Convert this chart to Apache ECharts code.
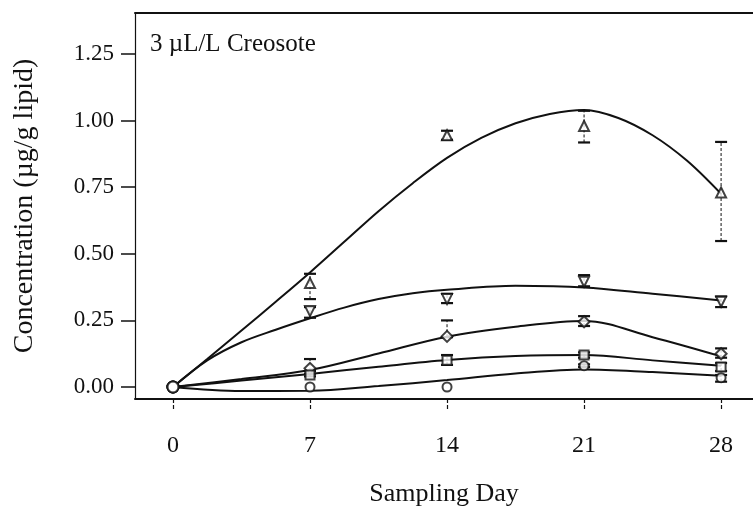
<!DOCTYPE html>
<html>
<head>
<meta charset="utf-8">
<script src="https://cdn.jsdelivr.net/npm/echarts@6/dist/echarts.min.js"></script>
<style>
  html, body { margin: 0; padding: 0; background: #fff; }
  #chart { width: 753px; height: 508px; }
</style>
</head>
<body>
<div id="chart"></div>
<script>
// Sampling days and tick labels
const days = [0, 7, 14, 21, 28];
const xTicks = [0, 7, 14, 21, 28];
const yTicks = [0, 0.25, 0.5, 0.75, 1.0, 1.25];

// Measured means per compound group
const s1 = [0, 0.39, 0.945, 0.98, 0.73];
const s2 = [0, 0.285, 0.33, 0.395, 0.32];
const s3 = [0, 0.07, 0.19, 0.245, 0.125];
const s4 = [0, 0.045, 0.10, 0.12, 0.075];
const s5 = [0, 0.0, 0.0, 0.08, 0.035];

// Error bar bounds (null = no bar)
const s1Low  = [null, 0.33, 0.928, 0.918, 0.548];
const s1High = [null, 0.425, 0.962, 1.037, 0.92];
const s2Low  = [null, 0.26, 0.315, 0.378, 0.30];
const s2High = [null, 0.30, 0.35, 0.42, 0.34];
const s3Low  = [null, 0.06, 0.187, 0.229, 0.11];
const s3High = [null, 0.105, 0.25, 0.266, 0.145];
const s4Low  = [null, 0.04, 0.083, 0.11, 0.06];
const s4High = [null, 0.05, 0.12, 0.13, 0.09];
const s5Low  = [null, null, null, 0.075, 0.02];
const s5High = [null, null, null, 0.085, 0.045];

// Fitted curves
const fit1Days = [0, 1.75, 3.5, 5.25, 7, 8.75, 10.5, 12.25, 14, 15.75, 17.5, 19.25, 21, 22.75, 24.5, 26.25, 28];
const fit1 = [0, 0.105, 0.212, 0.32, 0.43, 0.545, 0.66, 0.765, 0.86, 0.935, 0.99, 1.025, 1.04, 1.01, 0.945, 0.85, 0.725];
const fit2Days = [0, 1.75, 3.5, 5.25, 7, 8.75, 10.5, 12.25, 14, 17.5, 21, 24.5, 28];
const fit2 = [0, 0.10, 0.168, 0.215, 0.258, 0.298, 0.33, 0.352, 0.365, 0.38, 0.374, 0.35, 0.325];
const fit3Days = [0, 3.5, 7, 10.5, 14, 17.5, 21, 24.5, 28];
const fit3 = [0, 0.03, 0.064, 0.126, 0.189, 0.226, 0.248, 0.187, 0.115];
const fit4Days = [0, 3.5, 7, 10.5, 14, 17.5, 21, 24.5, 28];
const fit4 = [0, 0.024, 0.049, 0.076, 0.101, 0.116, 0.12, 0.10, 0.08];
const fit5Days = [0, 3.5, 7, 10.5, 14, 17.5, 21, 24.5, 28];
const fit5 = [0, -0.015, -0.014, 0.004, 0.026, 0.051, 0.066, 0.056, 0.042];

const FONT = 'Liberation Serif';
const INK = '#111';
const invTriangle = 'path://M0,0 L10,0 L5,9 Z';

function pairs(xs, ys) { return xs.map((x, i) => [x, ys[i]]); }

function fitSeries(xs, ys) {
  return {
    type: 'line', data: pairs(xs, ys), smooth: 0.35, showSymbol: false,
    lineStyle: { color: INK, width: 2 }, z: 2, silent: true
  };
}

function errSeries(low, high) {
  const data = [];
  days.forEach((d, i) => { if (low[i] != null) data.push([d, low[i], high[i]]); });
  return {
    type: 'custom', z: 3, silent: true, data: data,
    encode: { x: 0, y: [1, 2] },
    renderItem: function (params, api) {
      const lo = api.coord([api.value(0), api.value(1)]);
      const hi = api.coord([api.value(0), api.value(2)]);
      const hw = 6;
      return {
        type: 'group', children: [
          { type: 'line', shape: { x1: lo[0], y1: lo[1], x2: hi[0], y2: hi[1] },
            style: { stroke: INK, lineWidth: 1, lineDash: [3, 2] } },
          { type: 'line', shape: { x1: lo[0] - hw, y1: lo[1], x2: lo[0] + hw, y2: lo[1] },
            style: { stroke: INK, lineWidth: 2.2 } },
          { type: 'line', shape: { x1: hi[0] - hw, y1: hi[1], x2: hi[0] + hw, y2: hi[1] },
            style: { stroke: INK, lineWidth: 2.2 } }
        ]
      };
    }
  };
}

function markSeries(ys, symbol, size) {
  return {
    type: 'scatter', z: 5, silent: true,
    data: days.map((d, i) => i === 0
      ? { value: [d, ys[i]], symbol: 'circle', symbolSize: 11 }
      : { value: [d, ys[i]] }),
    symbol: symbol, symbolSize: size,
    itemStyle: { color: '#fff', borderColor: INK, borderWidth: 2 }
  };
}

const chart = echarts.init(document.getElementById('chart'), null, { renderer: 'canvas' });
chart.setOption({
  backgroundColor: '#fff',
  animation: false,
  grid: { left: 135, top: 13, right: 0, bottom: 109, containLabel: false, outerBoundsMode: 'none' },
  xAxis: [{
    type: 'value', min: -1.94, max: 29.63,
    splitLine: { show: false },
    axisLine: { onZero: false, lineStyle: { color: INK, width: 2 } },
    axisTick: { show: true, length: 12, customValues: xTicks, lineStyle: { color: INK, width: 1.2, type: [4, 2] } },
    axisLabel: { customValues: xTicks, margin: 35, fontFamily: FONT, fontSize: 24, color: INK },
    name: 'Sampling Day', nameLocation: 'middle', nameGap: 82,
    nameTextStyle: { fontFamily: FONT, fontSize: 26, color: INK }
  }, {
    type: 'value', position: 'top', min: -1.94, max: 29.63,
    splitLine: { show: false },
    axisLine: { show: true, onZero: false, lineStyle: { color: INK, width: 2 } },
    axisTick: { show: false }, axisLabel: { show: false }
  }],
  yAxis: {
    type: 'value', min: -0.045, max: 1.404,
    splitLine: { show: false },
    axisLine: { show: true, onZero: false, lineStyle: { color: INK, width: 1.2 } },
    axisTick: { show: true, length: 14, customValues: yTicks, lineStyle: { color: INK, width: 1.5 } },
    axisLabel: {
      customValues: yTicks, margin: 21, fontFamily: FONT, fontSize: 23, color: INK,
      formatter: v => v.toFixed(2)
    },
    name: 'Concentration (\u00b5g/g lipid)', nameLocation: 'middle', nameGap: 96,
    nameTextStyle: { fontFamily: FONT, fontSize: 28, color: INK }
  },
  graphic: [{
    type: 'text', left: 150, top: 32,
    style: { text: '3 \u00b5L/L Creosote', font: '25px "Liberation Serif"', fill: INK }
  }],
  series: [
    fitSeries(fit1Days, fit1),
    fitSeries(fit2Days, fit2),
    fitSeries(fit3Days, fit3),
    fitSeries(fit4Days, fit4),
    fitSeries(fit5Days, fit5),
    errSeries(s1Low, s1High),
    errSeries(s2Low, s2High),
    errSeries(s3Low, s3High),
    errSeries(s4Low, s4High),
    errSeries(s5Low, s5High),
    markSeries(s1, 'triangle', 10),
    markSeries(s2, invTriangle, 10),
    markSeries(s3, 'diamond', 11),
    markSeries(s4, 'rect', 9),
    markSeries(s5, 'circle', 9)
  ]
});
</script>
</body>
</html>
